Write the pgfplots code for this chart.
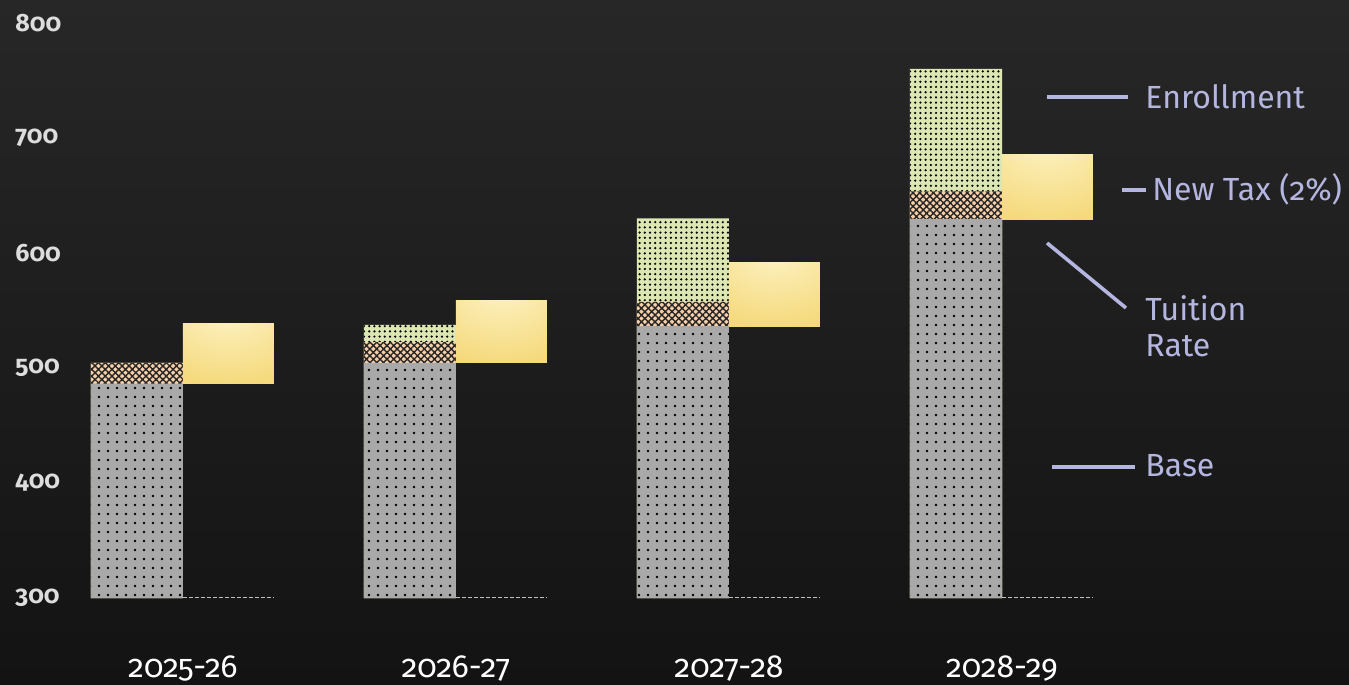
\documentclass[border=0pt]{standalone}
\usepackage{fontspec}
\setmainfont{Fira Sans}[Numbers=OldStyle]
\usepackage{pgfplots}
\usepackage{pgfplotstable}
\pgfplotsset{compat=1.18}
\usetikzlibrary{patterns.meta}
\definecolor{bgtop}{HTML}{272727}
\definecolor{bgbot}{HTML}{131313}
\definecolor{basegray}{HTML}{A9A9A9}
\definecolor{peach}{HTML}{F7CFA8}
\definecolor{sage}{HTML}{DCE6B2}
\definecolor{goldA}{HTML}{FBEDB4}
\definecolor{goldB}{HTML}{F5DA7E}
\definecolor{goldC}{HTML}{F0CC55}
\definecolor{lav}{HTML}{B4B6E0}
\definecolor{ticktext}{HTML}{DDDDDD}
\pgfdeclareradialshading{goldglow}{\pgfpoint{0bp}{42bp}}{color(0bp)=(white); color(14bp)=(goldA); color(48bp)=(goldB); color(88bp)=(goldC); color(110bp)=(goldC)}

% base, tuition-rate increment, enrollment increment, new tax (2%) increment
\pgfplotstableread{
x base tuition enroll tax
0 486.5 18 0 52.5
1 504.5 18 15 54
2 536.5 21 72.5 55
3 629.5 24 106.5 56.5
}\budget

\begin{document}
\begin{tikzpicture}
\useasboundingbox (0,-43.5pt) rectangle (674.5pt,299pt);
\fill[top color=bgtop, bottom color=bgbot] (0,-43.5pt) rectangle (674.5pt,299pt);
\begin{axis}[
  scale only axis, width=674.5pt, height=299pt,
  at={(0,0)}, anchor=south west,
  xmin=-0.670, xmax=4.271, ymin=300, ymax=820,
  axis line style={draw=none},
  major tick length=0pt,
  ytick={300,400,...,800},
  xtick={0,1,2,3},
  xticklabels={2025-26,2026-27,2027-28,2028-29},
  /pgf/number format/assume math mode=true,
  /pgf/number format/1000 sep={},
  yticklabel style={anchor=west, inner sep=0pt, xshift=7.5pt, text=ticktext, font=\fontsize{12.5}{14}\selectfont\bfseries},
  xticklabel style={anchor=base, inner sep=0pt, yshift=-39.5pt, text=white, font=\fontsize{16}{18}\selectfont},
]
% left stacked column drawn as cumulative tops (overlapping)
\addplot[ybar, bar width=0.337, bar shift=0pt, draw=none, fill=sage,
  postaction={pattern={Dots[distance=2.6pt, radius=0.62pt]}, pattern color=black}]
  table[x expr=\thisrow{x}-0.1685, y expr=\thisrow{base}+\thisrow{tuition}+\thisrow{enroll}] {\budget};
\addplot[ybar, bar width=0.337, bar shift=0pt, draw=none, fill=peach,
  postaction={pattern={Hatch[angle=45, distance=2.4pt, line width=0.7pt]}, pattern color=black!85}]
  table[x expr=\thisrow{x}-0.1685, y expr=\thisrow{base}+\thisrow{tuition}] {\budget};
\addplot[ybar, bar width=0.337, bar shift=0pt, draw=none, fill=basegray,
  postaction={pattern={Dots[distance=4.5pt, radius=0.72pt]}, pattern color=black}]
  table[x expr=\thisrow{x}-0.1685, y=base] {\budget};
% new tax floating bars
\addplot[draw=none, shade, shading=goldglow] coordinates {(0,486.5) (0.333,486.5) (0.333,539) (0,539)} -- cycle;
\addplot[draw=none, shade, shading=goldglow] coordinates {(1,504.5) (1.333,504.5) (1.333,558.5) (1,558.5)} -- cycle;
\addplot[draw=none, shade, shading=goldglow] coordinates {(2,536.5) (2.333,536.5) (2.333,591.5) (2,591.5)} -- cycle;
\addplot[draw=none, shade, shading=goldglow] coordinates {(3,629.5) (3.333,629.5) (3.333,686) (3,686)} -- cycle;
% dashed baselines under the tax bars
\addplot[draw=black!25, line width=0.7pt, dash pattern=on 2pt off 1pt] coordinates {(0,300.6) (0.333,300.6)};
\addplot[draw=black!25, line width=0.7pt, dash pattern=on 2pt off 1pt] coordinates {(1,300.6) (1.333,300.6)};
\addplot[draw=black!25, line width=0.7pt, dash pattern=on 2pt off 1pt] coordinates {(2,300.6) (2.333,300.6)};
\addplot[draw=black!25, line width=0.7pt, dash pattern=on 2pt off 1pt] coordinates {(3,300.6) (3.333,300.6)};
% labels
\draw[lav, line width=1.8pt] (axis cs:3.165,735.7) -- (axis cs:3.462,735.7);
\node[text=lav, anchor=west, inner sep=0pt, font=\fontsize{16}{18}\selectfont] at (axis cs:3.524,735.7) {Enrollment};
\draw[lav, line width=1.8pt] (axis cs:3.440,654.8) -- (axis cs:3.527,654.8);
\node[text=lav, anchor=west, inner sep=0pt, font=\fontsize{16}{18}\selectfont] at (axis cs:3.549,655.7) {New Tax (2\%)};
\draw[lav, line width=1.8pt] (axis cs:3.165,608.7) -- (axis cs:3.454,552.2);
\node[text=lav, anchor=west, inner sep=0pt, font=\fontsize{16}{18}\selectfont] at (axis cs:3.524,552.2) {Tuition};
\node[text=lav, anchor=west, inner sep=0pt, font=\fontsize{16}{18}\selectfont] at (axis cs:3.524,519.1) {Rate};
\draw[lav, line width=1.8pt] (axis cs:3.183,413.9) -- (axis cs:3.487,413.9);
\node[text=lav, anchor=west, inner sep=0pt, font=\fontsize{16}{18}\selectfont] at (axis cs:3.524,414.8) {Base};
\end{axis}
\end{tikzpicture}
\end{document}
